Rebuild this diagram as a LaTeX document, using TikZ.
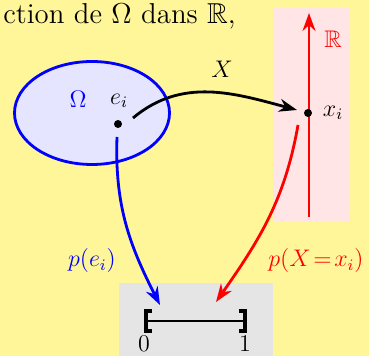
\documentclass[tikz,border=0pt]{standalone}
\usepackage{tikz}
\usepackage{xcolor}
\usepackage{amsmath,amssymb}
\usetikzlibrary{shapes.geometric, arrows.meta, positioning}

\definecolor{fondjaune}{RGB}{255,246,153}

\begin{document}
\begin{tikzpicture}[
    x=0.5pt, y=-0.5pt,
    every node/.style={font=\large},
    dot/.style={circle, fill=black, inner sep=0pt, minimum size=4pt},
    map/.style={-{Stealth[length=9pt, width=6.5pt]}, line width=1.4pt},
    bracket/.style={line width=1.8pt},
    univers/.style={ellipse, draw=blue, line width=1.4pt, fill=blue!10, minimum width=77.5pt, minimum height=51.5pt}
]
    \useasboundingbox (0,0) rectangle (369,356);
    \fill[fondjaune] (0,0) rectangle (369,356);

    % Title line
    \node[anchor=base west, inner sep=0pt, font=\Large] (titre) at (3,24) {ction de $\Omega$ dans $\mathbb{R}$,};

    % Real line
    \fill[red!10] (273,7) rectangle (350,222);
    \coordinate (rbas) at (309,217);
    \coordinate (rhaut) at (309,13);
    \draw[map, red] (rbas) -- (rhaut);
    \node[red] (R) at (333,39) {$\mathbb{R}$};
    \node[dot] (xi) at (308,113) {};
    \node (xilbl) at (333,113) {$x_i$};

    % Universe
    \node[univers] (omega) at (92,113) {};
    \node[blue] (omegalbl) at (78,99) {$\Omega$};
    \node[dot] (ei) at (118,124) {};
    \node (eilbl) at (119,101) {$e_i$};

    % Interval [0,1]
    \fill[gray!20] (119,283) rectangle (273,370);
    \coordinate (zero) at (146,321);
    \coordinate (un) at (245,321);
    \draw[line width=1.2pt] (zero) -- (un);
    \draw[bracket] (zero) ++(6,-10) -- ++(-6,0) -- ++(0,20) -- ++(6,0);
    \draw[bracket] (un) ++(-6,-10) -- ++(6,0) -- ++(0,20) -- ++(-6,0);
    \node[inner sep=1pt] (lblzero) at (144,344) {$0$};
    \node[inner sep=1pt] (lblun) at (245,344) {$1$};

    % Random variable X
    \draw[map] ([shift={(15,-6)}]ei.center) to[out=40, in=165] ([shift={(-11,-3)}]xi.center);
    \node (Xlbl) at (222,69) {$X$};

    % Probabilities
    \coordinate (pbleu) at (160,305);
    \coordinate (prouge) at (216,302);
    \draw[map, blue] ([shift={(-1,13)}]ei.center) to[out=-92, in=117] (pbleu);
    \node[blue] (pei) at (92,261) {$p(e_i)$};
    \draw[map, red] ([shift={(-10,12)}]xi.center) to[out=-100, in=55] (prouge);
    \node[red] (pxi) at (316,261) {$p(X\!=\!x_i)$};
\end{tikzpicture}
\end{document}
